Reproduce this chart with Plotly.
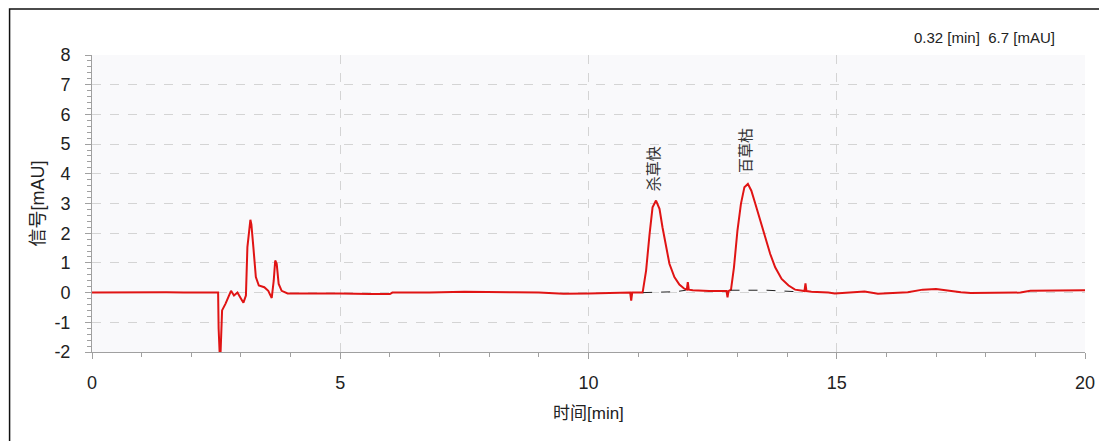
import plotly.graph_objects as go

# ---- data ----
time_min = [0.0, 0.5, 1.0, 1.5, 1.85, 2.2, 2.5, 2.54, 2.55, 2.57, 2.59, 2.62, 2.69, 2.74,
            2.80, 2.86, 2.93, 2.99, 3.05, 3.10, 3.13, 3.19, 3.21, 3.25, 3.30, 3.36, 3.47,
            3.55, 3.62, 3.66, 3.69, 3.72, 3.76, 3.82, 3.94, 4.14, 4.6, 5.0, 5.6, 6.0, 6.05,
            6.8, 7.5, 8.0, 8.5, 9.0, 9.5, 10.0, 10.5, 10.84, 10.86, 10.88, 11.09, 11.16,
            11.23, 11.29, 11.36, 11.43, 11.49, 11.56, 11.63, 11.73, 11.83, 11.93, 11.98,
            12.0, 12.02, 12.1, 12.43, 12.78, 12.80, 12.82, 12.87, 12.93, 13.0, 13.07,
            13.14, 13.21, 13.28, 13.36, 13.46, 13.56, 13.66, 13.76, 13.89, 14.03, 14.16,
            14.35, 14.37, 14.39, 14.49, 14.83, 14.96, 15.56, 15.83, 16.43, 16.73, 17.0,
            17.23, 17.5, 17.7, 18.7, 18.9, 19.5, 20.0]
signal_mau = [0.0, 0.01, 0.0, 0.01, 0.0, 0.0, 0.0, 0.0, -1.2, -2.0, -2.0, -0.6, -0.37, -0.2,
              0.06, -0.1, 0.0, -0.17, -0.34, -0.1, 1.53, 2.45, 2.3, 1.53, 0.52, 0.24, 0.18,
              0.06, -0.18, 0.4, 1.08, 0.97, 0.29, 0.06, -0.03, -0.03, -0.02, -0.03, -0.05,
              -0.05, 0.0, 0.0, 0.03, 0.03, 0.01, 0.0, -0.04, -0.03, 0.0, 0.0, -0.27, 0.0,
              0.0, 0.74, 1.97, 2.87, 3.1, 2.82, 2.2, 1.53, 0.97, 0.52, 0.27, 0.13, 0.1,
              0.35, 0.1, 0.08, 0.05, 0.05, -0.16, 0.05, 0.1, 0.85, 2.09, 2.99, 3.55, 3.66,
              3.43, 2.99, 2.42, 1.86, 1.3, 0.85, 0.46, 0.24, 0.1, 0.05, 0.31, 0.05, 0.03,
              0.0, -0.03, 0.04, -0.04, 0.01, 0.1, 0.12, 0.06, 0.01, -0.01, 0.0, 0.06, 0.07,
              0.08]

# integration baselines under the two peaks
base1_t = [11.10, 11.76, 11.96]
base1_v = [0.0, 0.03, 0.08]
base2_t = [12.86, 13.59, 14.19]
base2_v = [0.08, 0.08, 0.03]

peak_names = ["杀草快", "百草枯"]
peak_label_t = [11.29, 13.14]
peak_label_v = [4.17, 4.78]

x_ticks = [0, 5, 10, 15, 20]
y_ticks = [-2, -1, 0, 1, 2, 3, 4, 5, 6, 7, 8]

FONT = "Liberation Sans, Arial, Noto Sans CJK SC, sans-serif"

fig = go.Figure()
fig.add_trace(go.Scatter(x=time_min, y=signal_mau, mode="lines",
                         line=dict(color="#e01414", width=2), hoverinfo="skip"))
for bt, bv in ((base1_t, base1_v), (base2_t, base2_v)):
    fig.add_trace(go.Scatter(x=bt, y=bv, mode="lines",
                             line=dict(color="#222222", width=1, dash="dash"),
                             hoverinfo="skip"))

for name, tx, ty in zip(peak_names, peak_label_t, peak_label_v):
    fig.add_annotation(x=tx, y=ty, text=name, showarrow=False, textangle=-90,
                       xanchor="center", yanchor="middle",
                       font=dict(family="Noto Sans CJK SC", size=15, color="#333333"))

# axis titles and cursor readout
fig.add_annotation(xref="paper", yref="paper", x=0.5, y=(352 - 413) / 297,
                   xanchor="center", yanchor="middle",
                   text="时间[min]", showarrow=False,
                   font=dict(family=FONT, size=17, color="#222222"))
fig.add_annotation(xref="paper", yref="paper", x=(38 - 92) / 1000, y=(352 - 203) / 297,
                   xanchor="center", yanchor="middle",
                   text="信号[mAU]", showarrow=False, textangle=-90,
                   font=dict(family=FONT, size=18, color="#222222"))
fig.add_annotation(xref="paper", yref="paper", x=(991 - 92) / 1000, y=(352 - 38) / 297,
                   xanchor="center", yanchor="middle",
                   text="0.32 [min]  6.7 [mAU]", showarrow=False,
                   font=dict(family=FONT, size=15, color="#222222"))

# outer frame (paper edge)
fig.add_shape(type="rect", xref="paper", yref="paper",
              x0=(9 - 92) / 1000, x1=(1125 - 92) / 1000,
              y0=(352 - 460) / 297, y1=(352 - 9) / 297,
              line=dict(color="#111111", width=1.5), fillcolor="rgba(0,0,0,0)",
              layer="above")

fig.update_layout(
    width=1099, height=433,
    margin=dict(l=84, r=15, t=47, b=89),
    paper_bgcolor="white", plot_bgcolor="#f9f9fb",
    showlegend=False,
    font=dict(family=FONT, size=18, color="#222222"),
)
fig.update_xaxes(range=[0, 20], tickvals=x_ticks, ticktext=[str(v) for v in x_ticks],
                 showline=True, linecolor="#a0a0a0", linewidth=1,
                 ticks="outside", ticklen=6, tickcolor="#a0a0a0",
                 ticklabelstandoff=8,
                 showgrid=True, gridcolor="#d4d4d4", griddash="dash", gridwidth=1,
                 zeroline=False,
                 minor=dict(dtick=1, ticks="outside", ticklen=4, tickcolor="#a0a0a0",
                            showgrid=False))
fig.update_yaxes(range=[-2, 8], tickvals=y_ticks, ticktext=[str(v) for v in y_ticks],
                 showline=True, linecolor="#a0a0a0", linewidth=1,
                 ticks="outside", ticklen=6, tickcolor="#a0a0a0",
                 ticklabelstandoff=11,
                 showgrid=True, gridcolor="#d4d4d4", griddash="dash", gridwidth=1,
                 zeroline=False,
                 minor=dict(dtick=0.2, ticks="outside", ticklen=4, tickcolor="#a0a0a0",
                            showgrid=False))

fig.write_html("out.html")
